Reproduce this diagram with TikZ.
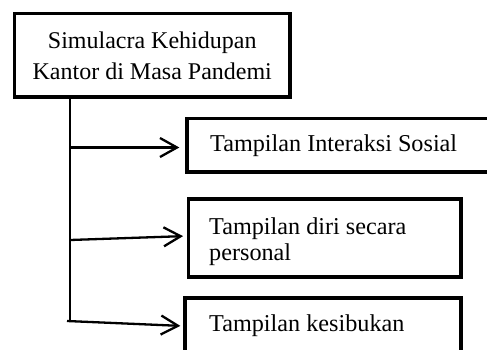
\documentclass[tikz,border=0pt]{standalone}
\usepackage{fontspec}
\setmainfont{Liberation Serif}
\usetikzlibrary{arrows.meta,calc}
\begin{document}
\begin{tikzpicture}[x=1pt,y=-1pt,
  box/.style={draw, line width=3.3pt, inner sep=0pt, rectangle},
  lbl/.style={inner sep=0pt, anchor=base west, font=\fontsize{24.2}{26}\selectfont},
  conn/.style={line width=2.3pt},
  arr/.style={conn, -{Straight Barb[length=17pt,width=19pt]}}]
\useasboundingbox (0,0) rectangle (487,349);
\clip (0,0) rectangle (487,349);
\node[box, minimum width=275.5pt, minimum height=83.3pt, align=center,
      font=\fontsize{24}{31}\selectfont] (root) at (152.25,55.35)
      {Simulacra Kehidupan\\Kantor di Masa Pandemi};
\node[box, minimum width=333pt, minimum height=53.3pt] (b1) at (353.5,145.35) {};
\node[box, minimum width=272.3pt, minimum height=78pt] (b2) at (324.85,238) {};
\node[box, minimum width=276pt, minimum height=56pt] (b3) at (323,326) {};
\node[lbl] (t1) at (210,151) {Tampilan Interaksi Sosial};
\node[lbl] (t2a) at (209,234) {Tampilan diri secara};
\node[lbl] (t2b) at (209,260) {personal};
\node[lbl] (t3) at (209,331) {Tampilan kesibukan};
\coordinate (j1) at (70,147.5);
\coordinate (j2) at (70,240);
\coordinate (j3) at (67,321);
\coordinate (tend) at (70,322);
\draw[conn] (root.south -| tend) -- (tend);
\draw[arr, shorten >=6pt] (j1) -- (j1 -| b1.west);
\draw[arr, shorten >=4pt] (j2) -- ($(b2.west)+(0,-2)$);
\draw[arr, shorten >=3pt] (j3) -- (b3.west);
\end{tikzpicture}
\end{document}
